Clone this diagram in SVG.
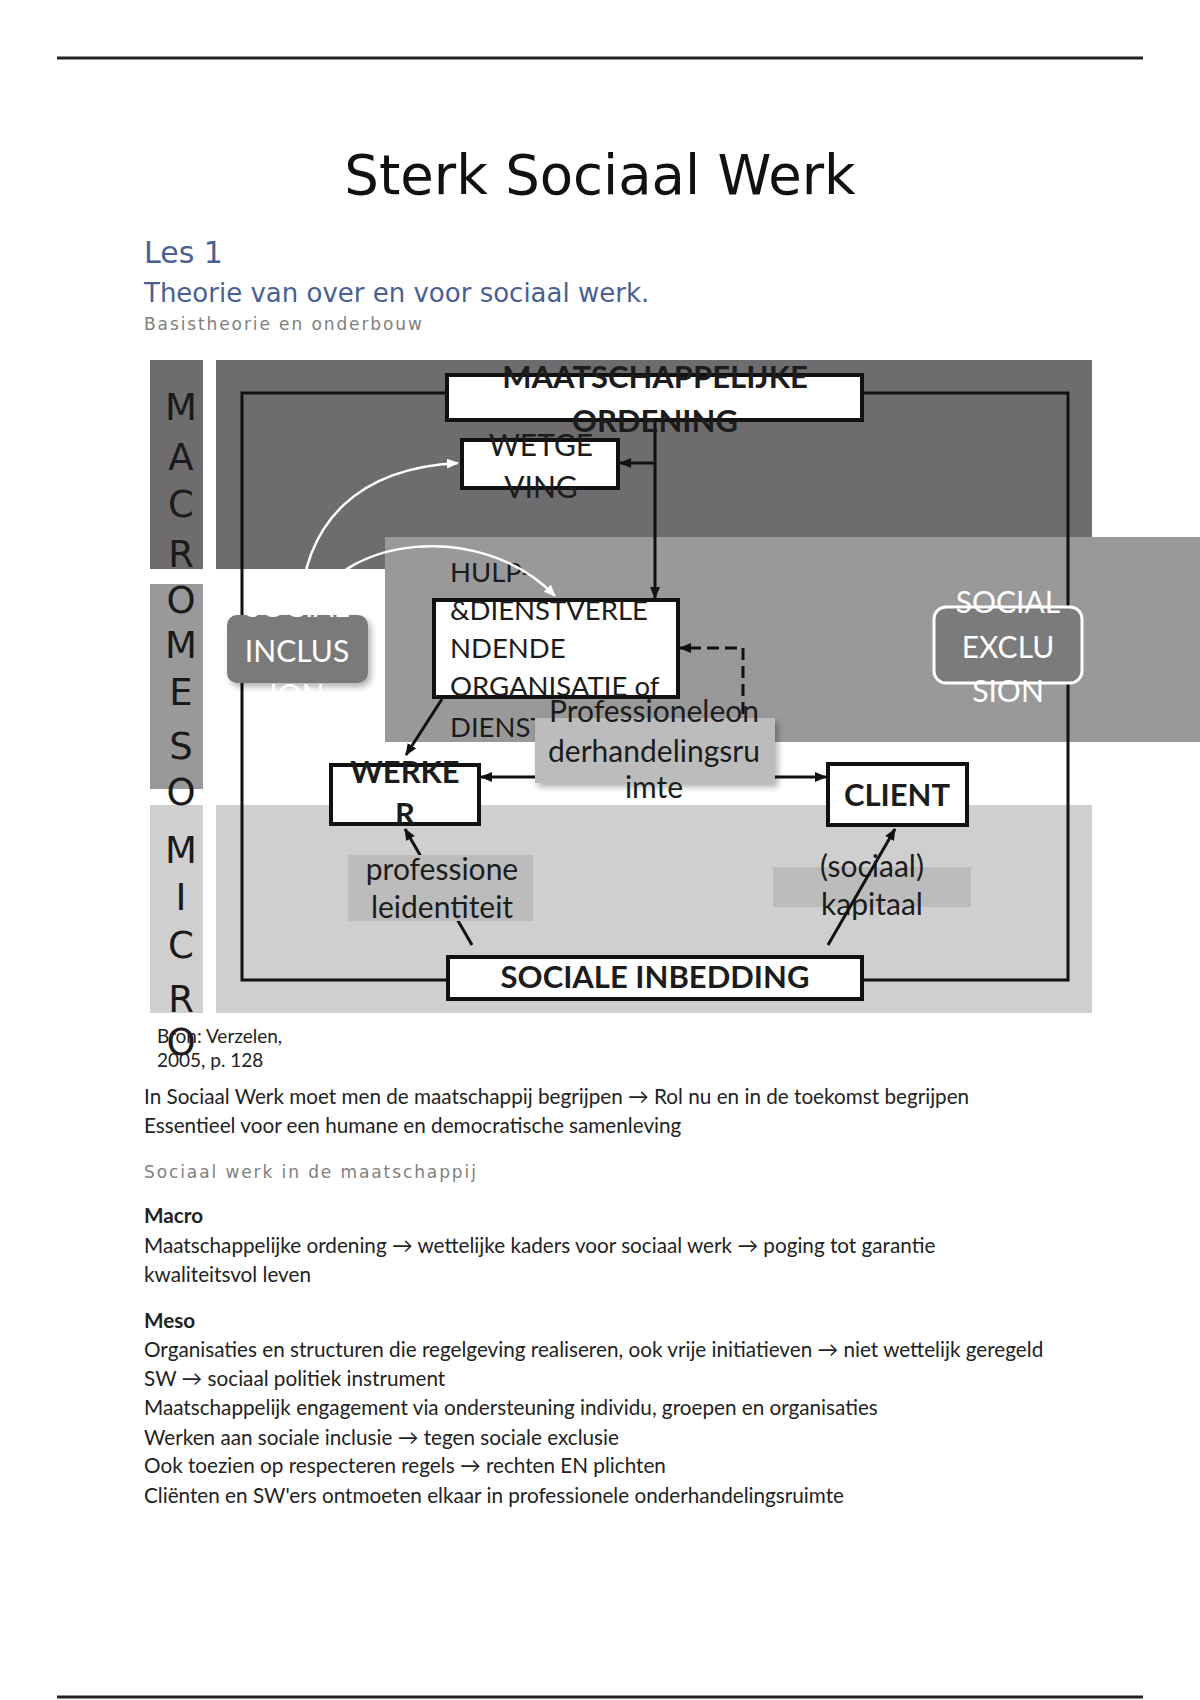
<svg xmlns="http://www.w3.org/2000/svg" width="1200" height="1700" viewBox="0 0 1200 1700">
<defs>
<style>
.h{font-family:"DejaVu Sans",sans-serif}
.d{font-family:Lato,"Noto Sans",sans-serif;fill:#1c1c1c}
.b{font-weight:bold}
.bar{font-family:"DejaVu Sans",sans-serif;font-size:37px;fill:#1a1a1a;text-anchor:middle}
.box{fill:#fff;stroke:#111;stroke-width:4}
.ln{fill:none;stroke:#111;stroke-width:3}
.wc{fill:none;stroke:#fff;stroke-width:2.5}
.wt{fill:#fff;font-family:Lato,"Noto Sans",sans-serif;font-size:30px;text-anchor:middle}
.body{font-family:Lato,"Noto Sans",sans-serif;font-size:20.7px;fill:#222}
.sub{font-family:"DejaVu Sans",sans-serif;font-size:17px;fill:#808080;letter-spacing:1.9px}
</style>
<marker id="ah" viewBox="0 0 12 10" markerWidth="12" markerHeight="10" refX="11" refY="5" orient="auto" markerUnits="userSpaceOnUse"><path d="M0,0 L12,5 L0,10 z" fill="#111"/></marker>
<marker id="aw" viewBox="0 0 12 10" markerWidth="12" markerHeight="10" refX="11" refY="5" orient="auto" markerUnits="userSpaceOnUse"><path d="M0,0 L12,5 L0,10 z" fill="#fff"/></marker>
<filter id="sh" x="-10%" y="-10%" width="130%" height="140%"><feDropShadow dx="3" dy="4" stdDeviation="3" flood-color="#000" flood-opacity="0.3"/></filter>
</defs>

<rect width="1200" height="1700" fill="#fff"/>
<line x1="57" y1="58" x2="1143" y2="58" stroke="#222" stroke-width="3"/>
<line x1="57" y1="1697" x2="1143" y2="1697" stroke="#222" stroke-width="3"/>

<text class="h" x="600" y="194" font-size="54.5" text-anchor="middle" fill="#111">Sterk Sociaal Werk</text>
<text class="h" x="144" y="263" font-size="30" fill="#4a5f92">Les 1</text>
<text class="h" x="144" y="302" font-size="26" fill="#4a5f92">Theorie van over en voor sociaal werk.</text>
<text class="sub" x="144" y="330">Basistheorie en onderbouw</text>

<g id="backgrounds">
<rect x="216" y="360" width="876" height="209" fill="#6e6c6e"/>
<rect x="385" y="537" width="815" height="205" fill="#9a999a"/>
<rect x="216" y="805" width="876" height="208" fill="#d0cfd0"/>
<rect x="150" y="360" width="53" height="209" fill="#6e6c6e"/>
<rect x="150" y="584" width="53" height="205" fill="#9a999a"/>
<rect x="150" y="805" width="53" height="208" fill="#d0cfd0"/>
</g>

<g id="levels">
<text class="bar" x="181" y="420">M</text>
<text class="bar" x="181" y="470">A</text>
<text class="bar" x="181" y="517">C</text>
<text class="bar" x="181" y="567">R</text>
<text class="bar" x="181" y="613">O</text>
<text class="bar" x="181" y="658">M</text>
<text class="bar" x="181" y="705">E</text>
<text class="bar" x="181" y="759">S</text>
<text class="bar" x="181" y="805">O</text>
<text class="bar" x="181" y="863">M</text>
<text class="bar" x="181" y="910">I</text>
<text class="bar" x="181" y="958">C</text>
<text class="bar" x="181" y="1012">R</text>
<text class="bar" x="181" y="1055">O</text>
</g>

<g id="connectors">
<polyline class="ln" points="448,393 242,393 242,980 448,980"/>
<polyline class="ln" points="862,393 1068,393 1068,980 862,980"/>
<line class="ln" x1="655" y1="420" x2="655" y2="598" marker-end="url(#ah)"/>
<line class="ln" x1="655" y1="463" x2="620" y2="463" marker-end="url(#ah)"/>
<polyline class="ln" points="743,714 743,648 680,648" stroke-dasharray="12 6" marker-end="url(#ah)"/>
<line class="ln" x1="442" y1="699" x2="406" y2="755" marker-end="url(#ah)"/>
<line class="ln" x1="650" y1="777" x2="481" y2="777" marker-end="url(#ah)"/>
<line class="ln" x1="650" y1="777" x2="826" y2="777" marker-end="url(#ah)"/>
<line class="ln" x1="472" y1="945" x2="405" y2="829" marker-end="url(#ah)"/>
</g>

<g id="maatschappelijke-ordening">
<rect class="box" x="447" y="375" width="415" height="45"/>
<text class="d b" x="655" y="388" font-size="31" text-anchor="middle">MAATSCHAPPELIJKE</text>
<text class="d b" x="655" y="432" font-size="31" text-anchor="middle">ORDENING</text>
</g>

<g id="wetgeving">
<rect class="box" x="462" y="440" width="156" height="48"/>
<text class="d" x="541" y="456" font-size="30" text-anchor="middle">WETGE</text>
<text class="d" x="541" y="498" font-size="30" text-anchor="middle">VING</text>
</g>

<g id="hulpverlenende-organisatie">
<rect class="box" x="434" y="600" width="244" height="97"/>
<text class="d" x="450" y="582" font-size="27.5">HULP-</text>
<text class="d" x="450" y="620" font-size="27.5">&amp;DIENSTVERLE</text>
<text class="d" x="450" y="658" font-size="27.5">NDENDE</text>
<text class="d" x="450" y="696" font-size="27.5">ORGANISATIE of</text>
<text class="d" x="450" y="737" font-size="27.5">DIENST</text>
</g>

<g id="social-inclusion">
<rect x="227" y="615" width="141" height="68" rx="10" fill="#7a7a7a" filter="url(#sh)"/>
<text class="wt" x="297" y="617">SOCIAL</text>
<text class="wt" x="297" y="662">INCLUS</text>
<text class="wt" x="297" y="706">ION</text>
</g>

<g id="social-exclusion">
<rect x="934" y="607" width="148" height="76" rx="12" fill="#7b7b7b" stroke="#fff" stroke-width="3"/>
<text class="wt" x="1008" y="613">SOCIAL</text>
<text class="wt" x="1008" y="658">EXCLU</text>
<text class="wt" x="1008" y="702">SION</text>
</g>

<g id="curves">
<path class="wc" d="M300,612 C304,520 360,468 458,463" marker-end="url(#aw)"/>
<path class="wc" d="M317,605 C340,540 480,518 555,596" marker-end="url(#aw)"/>
</g>

<g id="onderhandelingsruimte">
<rect x="535" y="718" width="240" height="65" fill="#bcbcbc" filter="url(#sh)"/>
<text class="d" x="654" y="722" font-size="30" text-anchor="middle">Professioneleon</text>
<text class="d" x="654" y="762" font-size="30" text-anchor="middle">derhandelingsru</text>
<text class="d" x="654" y="798" font-size="30" text-anchor="middle">imte</text>
</g>

<g id="werker">
<rect class="box" x="331" y="765" width="148" height="59"/>
<text class="d b" x="405" y="783" font-size="31" text-anchor="middle">WERKE</text>
<text class="d b" x="405" y="825" font-size="31" text-anchor="middle">R</text>
</g>

<g id="client">
<rect class="box" x="828" y="764" width="139" height="61"/>
<text class="d b" x="897" y="806" font-size="31" text-anchor="middle">CLIENT</text>
</g>

<g id="professionele-identiteit">
<rect x="348" y="855" width="185" height="66" fill="#bcbcbc"/>
<text class="d" x="442" y="880" font-size="30" text-anchor="middle">professione</text>
<text class="d" x="442" y="918" font-size="30" text-anchor="middle">leidentiteit</text>
</g>

<g id="sociaal-kapitaal">
<rect x="773" y="867" width="198" height="40" fill="#bcbcbc"/>
<text class="d" x="872" y="877" font-size="30" text-anchor="middle">(sociaal)</text>
<text class="d" x="872" y="915" font-size="30" text-anchor="middle">kapitaal</text>
</g>

<g id="sociale-inbedding">
<rect class="box" x="448" y="957" width="414" height="42"/>
<text class="d b" x="655" y="988" font-size="31" text-anchor="middle">SOCIALE INBEDDING</text>
</g>

<g id="connector-top">
<line class="ln" x1="828" y1="945" x2="895" y2="829" marker-end="url(#ah)"/>
</g>

<text class="body" x="157" y="1043" style="font-size:19px" fill="#333">Bron: Verzelen,</text>
<text class="body" x="157" y="1067" style="font-size:19px" fill="#333">2005, p. 128</text>

<g id="body">
<text class="body" x="144" y="1104">In Sociaal Werk moet men de maatschappij begrijpen → Rol nu en in de toekomst begrijpen</text>
<text class="body" x="144" y="1133">Essentieel voor een humane en democratische samenleving</text>
<text class="sub" x="144" y="1178">Sociaal werk in de maatschappij</text>
<text class="body" x="144" y="1223" font-weight="bold">Macro</text>
<text class="body" x="144" y="1253">Maatschappelijke ordening → wettelijke kaders voor sociaal werk → poging tot garantie</text>
<text class="body" x="144" y="1282">kwaliteitsvol leven</text>
<text class="body" x="144" y="1328" font-weight="bold">Meso</text>
<text class="body" x="144" y="1357">Organisaties en structuren die regelgeving realiseren, ook vrije initiatieven → niet wettelijk geregeld</text>
<text class="body" x="144" y="1386">SW → sociaal politiek instrument</text>
<text class="body" x="144" y="1415">Maatschappelijk engagement via ondersteuning individu, groepen en organisaties</text>
<text class="body" x="144" y="1445">Werken aan sociale inclusie → tegen sociale exclusie</text>
<text class="body" x="144" y="1473">Ook toezien op respecteren regels → rechten EN plichten</text>
<text class="body" x="144" y="1503">Cliënten en SW'ers ontmoeten elkaar in professionele onderhandelingsruimte</text>
</g>
</svg>
